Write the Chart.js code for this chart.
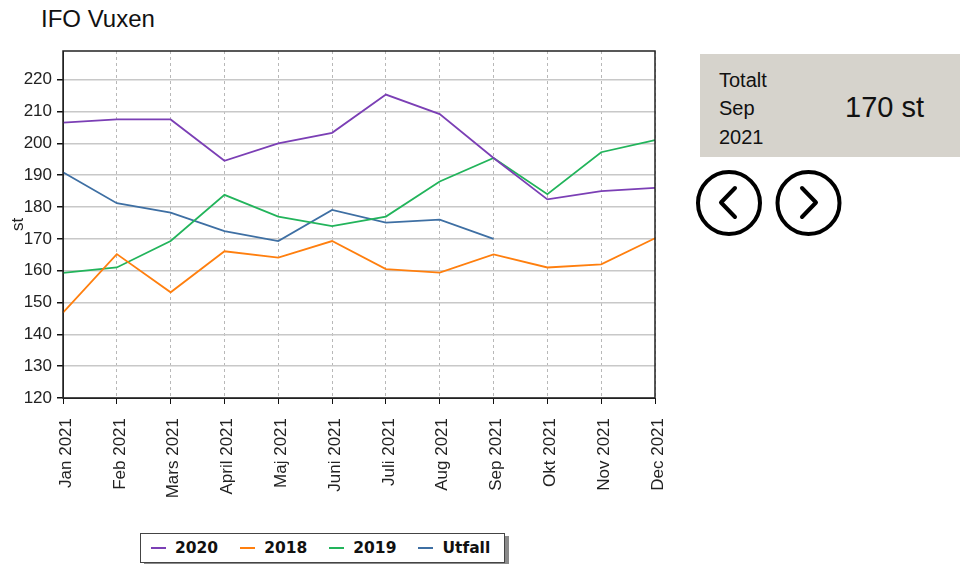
<!DOCTYPE html>
<html>
<head>
<meta charset="utf-8">
<script src="https://cdn.jsdelivr.net/npm/chart.js@4"></script>
<style>
  body { margin: 0; width: 960px; height: 564px; background: #fff; position: relative; overflow: hidden; font-family: "Liberation Sans", Arial, sans-serif; }
  #title { position: absolute; left: 41px; top: 7px; font-size: 24px; line-height: 1; color: #111; }
  #wrap { position: absolute; left: 0; top: 0; width: 700px; height: 500px; }
  #panel { position: absolute; left: 700px; top: 54px; width: 260px; height: 103px; background: #d6d3cc; color: #111; }
  #panel .lbl { position: absolute; left: 19px; top: 12px; font-size: 20px; line-height: 28.3px; }
  #panel .val { position: absolute; left: 145px; top: 36px; font-size: 29px; line-height: 1.2; }
  #nav { position: absolute; left: 690px; top: 162px; }
  #legend { position: absolute; left: 140px; top: 533px; height: 28px; border: 1px solid #444; background: #fff;
            box-shadow: 4px 3px 0 #8a8a8a; display: flex; align-items: center; padding: 0 14px 0 10px; gap: 22px;
            font-family: "DejaVu Sans", Verdana, sans-serif; font-weight: bold; font-size: 15.5px; color: #111; }
  #legend .item { display: flex; align-items: center; }
  #legend .sw { width: 15px; height: 2px; margin-right: 9px; }
</style>
</head>
<body>
<div id="title">IFO Vuxen</div>
<div id="wrap"><canvas id="myChart" width="700" height="500"></canvas></div>
<div id="panel">
  <div class="lbl">Totalt<br>Sep<br>2021</div>
  <div class="val">170 st</div>
</div>
<svg id="nav" width="160" height="85">
  <circle cx="39" cy="41" r="31" fill="none" stroke="#000" stroke-width="4"/>
  <polyline points="45,26 31,40.5 45,55" fill="none" stroke="#000" stroke-width="4" stroke-linejoin="round" stroke-linecap="round"/>
  <circle cx="118.5" cy="41" r="31" fill="none" stroke="#000" stroke-width="4"/>
  <polyline points="112,26 126,40.5 112,55" fill="none" stroke="#000" stroke-width="4" stroke-linejoin="round" stroke-linecap="round"/>
</svg>
<div id="legend"></div>

<script>
const months = ['Jan 2021', 'Feb 2021', 'Mars 2021', 'April 2021', 'Maj 2021', 'Juni 2021',
                'Juli 2021', 'Aug 2021', 'Sep 2021', 'Okt 2021', 'Nov 2021', 'Dec 2021'];
const yTicks = [120, 130, 140, 150, 160, 170, 180, 190, 200, 210, 220];

const data2020 = [206.5, 207.5, 207.5, 194.5, 200, 203.3, 215.3, 209.2, 195.4, 182.4, 185, 186];
const data2018 = [146.8, 165.2, 153.2, 166.1, 164.1, 169.3, 160.5, 159.4, 165.1, 161, 162, 170.2];
const data2019 = [159.3, 161, 169.3, 183.8, 177, 174, 177, 188, 195.4, 184, 197.2, 201];
const utfall   = [190.9, 181.2, 178.2, 172.4, 169.3, 179.1, 175.1, 176, 170];

const seriesNames = ['2020', '2018', '2019', 'Utfall'];
const seriesColors = ['#7b3fb5', '#ff7f0e', '#22b45b', '#3e6fa3'];

const ctx = document.getElementById('myChart').getContext('2d');

// ram runt hela plotytan
const frame = {
    id: 'frame',
    afterDraw(chart) {
        const a = chart.chartArea;
        const c = chart.ctx;
        c.save();
        c.strokeStyle = '#222';
        c.lineWidth = 1.5;
        c.strokeRect(a.left, a.top, a.right - a.left, a.bottom - a.top);
        c.restore();
    }
};

const series = [data2020, data2018, data2019, utfall];

const myChart = new Chart(ctx, {
    type: 'line',
    data: {
        labels: months,
        datasets: series.map((d, i) => ({
            label: seriesNames[i],
            data: d,
            borderColor: seriesColors[i],
            backgroundColor: seriesColors[i],
            borderWidth: 1.8,
            pointRadius: 0,
            tension: 0
        }))
    },
    options: {
        responsive: false,
        animation: false,
        layout: { padding: { top: 51, right: 45, left: 0, bottom: 0 } },
        plugins: {
            legend: { display: false },
            tooltip: { enabled: false }
        },
        scales: {
            x: {
                afterFit: s => { s.height = 102; },
                grid: { color: '#b8b8b8', lineWidth: 1, tickLength: 6, tickColor: '#111', tickBorderDash: [] },
                border: { dash: [3, 3], color: '#222' },
                ticks: { color: '#222', font: { family: 'Liberation Sans', size: 17 }, minRotation: 90, maxRotation: 90, autoSkip: false, padding: 14, labelOffset: 3 }
            },
            y: {
                min: 120,
                max: 229,
                afterFit: s => { s.width = 63; },
                afterBuildTicks: s => { s.ticks = yTicks.map(v => ({ value: v })); },
                grid: { color: '#c8c8c8', lineWidth: 1.5, tickLength: 6, tickColor: '#111' },
                border: { color: '#222' },
                ticks: { color: '#222', font: { family: 'Liberation Sans', size: 17 }, padding: 5 },
                title: { display: true, text: 'st', color: '#222', font: { family: 'Liberation Sans', size: 17 }, padding: { top: 8, bottom: 0 } }
            }
        }
    },
    plugins: [frame]
});

// legend
const legend = document.getElementById('legend');
seriesNames.forEach((name, i) => {
    const item = document.createElement('div');
    item.className = 'item';
    item.innerHTML = '<span class="sw" style="background:' + seriesColors[i] + '"></span>' + name;
    legend.appendChild(item);
});
</script>
</body>
</html>
